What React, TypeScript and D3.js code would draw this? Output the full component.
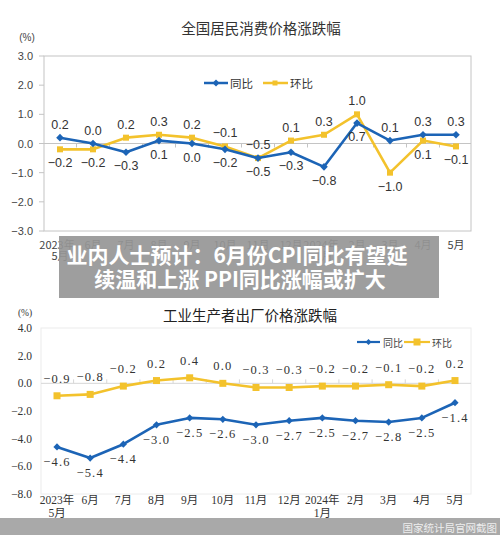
import React from 'react';
import * as d3 from 'd3';

// Months shown on both charts
const months = ['2023年5月', '6月', '7月', '8月', '9月', '10月', '11月', '12月', '2024年1月', '2月', '3月', '4月', '5月'];

// CPI (%)
const cpiYoY = [0.2, 0.0, -0.3, 0.1, 0.0, -0.2, -0.5, -0.3, -0.8, 0.7, 0.1, 0.3, 0.3];
const cpiMoM = [-0.2, -0.2, 0.2, 0.3, 0.2, -0.1, -0.5, 0.1, 0.3, 1.0, -1.0, 0.1, -0.1];
const cpiTicks = [3, 2, 1, 0, -1, -2, -3];

// PPI (%)
const ppiYoY = [-4.6, -5.4, -4.4, -3.0, -2.5, -2.6, -3.0, -2.7, -2.5, -2.7, -2.8, -2.5, -1.4];
const ppiMoM = [-0.9, -0.8, -0.2, 0.2, 0.4, 0.0, -0.3, -0.3, -0.2, -0.2, -0.1, -0.2, 0.2];
const ppiTicks = [4, 2, 0, -2, -4, -6, -8];

const BLUE = '#1c64b6';
const YELLOW = '#f3c22c';
const SANS = "'Liberation Sans', Arial, 'Noto Sans CJK SC', sans-serif";
const SERIF = "'Liberation Serif', 'DejaVu Serif', 'Noto Sans CJK SC', serif";
const CJK = "'Noto Sans CJK SC', sans-serif";

const splitLabel = (m: string) => (m.includes('年') ? [m.slice(0, m.indexOf('年') + 1), m.slice(m.indexOf('年') + 1)] : [m]);

const diamond = (x: number, y: number, r: number) => `M${x},${y - r}L${x + r},${y}L${x},${y + r}L${x - r},${y}Z`;

function CpiChart() {
  const idx = d3.range(months.length);
  const x = d3.scalePoint<number>().domain(idx).range([60, 456]);
  const y = d3.scaleLinear().domain([-3, 3]).range([231, 56]);
  const line = d3.line<number>().x((_, i) => x(i)!).y((d) => y(d));
  const fmt = d3.format('.1f');
  const step = x.step();

  const label = (v: number, other: number, i: number, isMoM: boolean) => {
    const above = v > other || (v === other && isMoM);
    const cy = above ? y(v) - 13 : y(v) + 14;
    return (
      <text key={`${isMoM ? 'm' : 'y'}${i}`} x={x(i)} y={cy} textAnchor="middle" dominantBaseline="central" fontSize={12.5} fill="#333" fontFamily={SANS}>
        {fmt(v)}
      </text>
    );
  };

  return (
    <g>
      <text x={261} y={34} textAnchor="middle" fontSize={14.5} fill="#333" fontFamily={CJK}>全国居民消费价格涨跌幅</text>
      <text x={27} y={41} textAnchor="middle" fontSize={10} fill="#444" fontFamily={SANS}>(%)</text>
      <rect x={44} y={56} width={427} height={175} fill="none" stroke="#c4c4c4" strokeWidth={1} />
      <line x1={44} x2={471} y1={y(0)} y2={y(0)} stroke="#c4c4c4" strokeWidth={1} />
      {idx.slice(0, -1).map((i) => (
        <line key={i} x1={x(i)! + step / 2} x2={x(i)! + step / 2} y1={y(0)} y2={y(0) + 4} stroke="#c4c4c4" />
      ))}
      {cpiTicks.map((t) => (
        <g key={t}>
          <line x1={39} x2={44} y1={y(t)} y2={y(t)} stroke="#c4c4c4" />
          <text x={33} y={y(t)} textAnchor="end" dominantBaseline="central" fontSize={11} fill="#444" fontFamily={SANS}>{fmt(t)}</text>
        </g>
      ))}
      {idx.map((i) => {
        const parts = splitLabel(months[i]);
        return parts.map((p, k) => (
          <text key={`${i}-${k}`} x={x(i)! + (parts.length > 1 && k === 0 ? -3 : 0)} y={244 + k * 11} textAnchor="middle" dominantBaseline="central" fontSize={11} fill="#444" fontFamily={CJK}>{p}</text>
        ));
      })}
      {/* legend */}
      <line x1={204} x2={228} y1={83} y2={83} stroke={BLUE} strokeWidth={2.5} />
      <path d={diamond(216, 83, 3.5)} fill={BLUE} />
      <text x={230} y={83} dominantBaseline="central" fontSize={11.5} fill="#333" fontFamily={CJK}>同比</text>
      <line x1={263} x2={288} y1={83} y2={83} stroke={YELLOW} strokeWidth={2.5} />
      <rect x={272.5} y={80.5} width={5} height={5} fill={YELLOW} />
      <text x={290} y={83} dominantBaseline="central" fontSize={11.5} fill="#333" fontFamily={CJK}>环比</text>

      <path d={line(cpiMoM) ?? ''} fill="none" stroke={YELLOW} strokeWidth={2.6} strokeLinejoin="round" />
      {cpiMoM.map((v, i) => <rect key={i} x={x(i)! - 3} y={y(v) - 3} width={6} height={6} fill={YELLOW} />)}
      <path d={line(cpiYoY) ?? ''} fill="none" stroke={BLUE} strokeWidth={2.6} strokeLinejoin="round" />
      {cpiYoY.map((v, i) => <path key={i} d={diamond(x(i)!, y(v), 3.8)} fill={BLUE} />)}

      {cpiYoY.map((v, i) => label(v, cpiMoM[i], i, false))}
      {cpiMoM.map((v, i) => label(v, cpiYoY[i], i, true))}
    </g>
  );
}

function PpiChart() {
  const idx = d3.range(months.length);
  const x = d3.scalePoint<number>().domain(idx).range([57, 455]);
  const y = d3.scaleLinear().domain([-8, 4]).range([494, 328]);
  const line = d3.line<number>().x((_, i) => x(i)!).y((d) => y(d));
  const fmt = (v: number) => d3.format('.1f')(v).replace('-', '−');
  const step = x.step();

  return (
    <g>
      <text x={250} y={321} textAnchor="middle" fontSize={14.5} fill="#222" fontFamily={CJK}>工业生产者出厂价格涨跌幅</text>
      <text x={25} y={316} textAnchor="middle" fontSize={9.5} fill="#333" fontFamily={SERIF}>(%)</text>
      <rect x={41} y={328} width={430} height={166} fill="none" stroke="#ececec" strokeWidth={1} />
      <line x1={41} x2={471} y1={y(0)} y2={y(0)} stroke="#d6d6d6" strokeWidth={1} />
      {idx.slice(0, -1).map((i) => (
        <line key={i} x1={x(i)! + step / 2} x2={x(i)! + step / 2} y1={y(0)} y2={y(0) - 4} stroke="#d6d6d6" />
      ))}
      {ppiTicks.map((t) => (
        <text key={t} x={32} y={y(t)} textAnchor="end" dominantBaseline="central" fontSize={11.5} fill="#333" fontFamily={SERIF}>{d3.format('.1f')(t)}</text>
      ))}
      {idx.map((i) => {
        const parts = splitLabel(months[i]);
        return parts.map((p, k) => (
          <text key={`${i}-${k}`} x={x(i)!} y={500 + k * 13} textAnchor="middle" dominantBaseline="central" fontSize={11.5} fill="#333" fontFamily={SERIF}>{p}</text>
        ));
      })}
      {/* legend */}
      <line x1={357} x2={380} y1={342} y2={342} stroke={BLUE} strokeWidth={2.2} />
      <path d={diamond(368.5, 342, 3)} fill={BLUE} />
      <text x={383} y={342} dominantBaseline="central" fontSize={10} fill="#444" fontFamily={CJK}>同比</text>
      <line x1={404} x2={430} y1={342} y2={342} stroke={YELLOW} strokeWidth={2.2} />
      <rect x={413.5} y={338.5} width={7} height={7} fill={YELLOW} />
      <text x={432} y={342} dominantBaseline="central" fontSize={10} fill="#444" fontFamily={CJK}>环比</text>

      <path d={line(ppiMoM) ?? ''} fill="none" stroke={YELLOW} strokeWidth={2.6} strokeLinejoin="round" />
      {ppiMoM.map((v, i) => <rect key={i} x={x(i)! - 3.5} y={y(v) - 3.5} width={7} height={7} fill={YELLOW} />)}
      <path d={line(ppiYoY) ?? ''} fill="none" stroke={BLUE} strokeWidth={2.6} strokeLinejoin="round" />
      {ppiYoY.map((v, i) => <path key={i} d={diamond(x(i)!, y(v), 3.6)} fill={BLUE} />)}

      {ppiMoM.map((v, i) => (
        <text key={`m${i}`} x={x(i)!} y={y(v) - 17} textAnchor="middle" dominantBaseline="central" fontSize={12.5} letterSpacing={1.2} fill="#333" fontFamily={SERIF}>{fmt(v)}</text>
      ))}
      {ppiYoY.map((v, i) => (
        <text key={`y${i}`} x={x(i)!} y={y(v) + 15} textAnchor="middle" dominantBaseline="central" fontSize={12.5} letterSpacing={1.2} fill="#333" fontFamily={SERIF}>{fmt(v)}</text>
      ))}
    </g>
  );
}

export default function App() {
  return (
    <svg width={500} height={535} style={{ position: 'absolute', left: 0, top: 0, background: '#fff' }}>
      <rect width={500} height={535} fill="#fff" />
      <CpiChart />
      <PpiChart />
      {/* headline banner */}
      <rect x={59} y={236} width={380} height={62} fill="rgba(150,150,150,0.92)" />
      <text x={237} y={254} textAnchor="middle" dominantBaseline="central" fontSize={21} fontWeight="bold" fill="#fff" fontFamily={CJK}>业内人士预计：6月份CPI同比有望延</text>
      <text x={240} y={278} textAnchor="middle" dominantBaseline="central" fontSize={21} fontWeight="bold" fill="#fff" fontFamily={CJK}>续温和上涨 PPI同比涨幅或扩大</text>
      {/* footer band */}
      <rect x={0} y={518} width={500} height={17} fill="rgba(160,160,160,0.9)" />
      <text x={497} y={527} textAnchor="end" dominantBaseline="central" fontSize={10.5} fill="#eee" fontFamily={CJK}>国家统计局官网截图</text>
    </svg>
  );
}
